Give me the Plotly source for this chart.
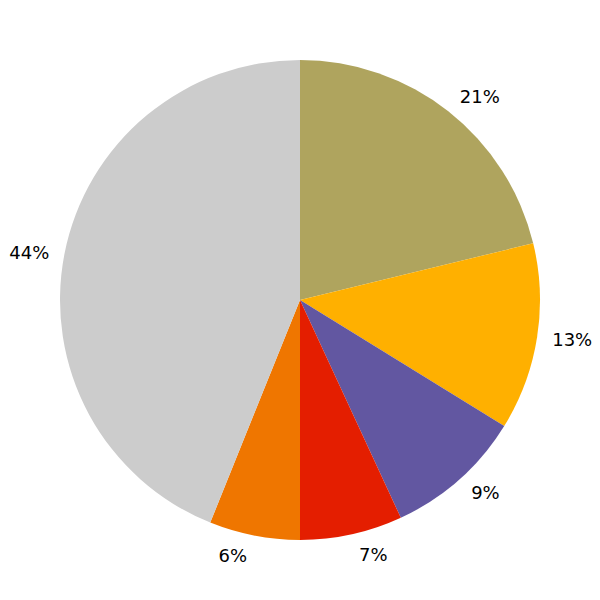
import plotly.graph_objects as go

labels = ["A", "B", "C", "D", "E", "F"]
values = [21.2, 12.6, 9.3, 6.9, 6.1, 43.9]
colors = ["#afa45e", "#ffb000", "#6257a1", "#e41e00", "#ef7600", "#cccccc"]

PLOT = 500.0
PIE = 480.0
lo = (PLOT - PIE) / 2 / PLOT
hi = 1 - lo

fig = go.Figure()
# transparent, slightly larger copy that carries the percentage labels
fig.add_trace(go.Pie(
    labels=labels,
    values=values,
    marker=dict(colors=["rgba(0,0,0,0)"] * len(values), line=dict(width=0)),
    sort=False,
    direction="clockwise",
    rotation=0,
    textposition="outside",
    texttemplate="%{percent:.0%}",
    textfont=dict(family="DejaVu Sans", size=18, color="#000000"),
    showlegend=False,
    hoverinfo="skip",
    automargin=False,
    domain=dict(x=[0, 1], y=[0, 1]),
))
# the coloured pie
fig.add_trace(go.Pie(
    labels=labels,
    values=values,
    marker=dict(colors=colors, line=dict(width=0)),
    sort=False,
    direction="clockwise",
    rotation=0,
    textinfo="none",
    showlegend=False,
    hoverinfo="label+percent",
    automargin=False,
    domain=dict(x=[lo, hi], y=[lo, hi]),
))
fig.update_layout(
    width=600, height=600,
    margin=dict(l=42, r=58, t=42, b=58),
    paper_bgcolor="white",
    plot_bgcolor="white",
)
fig.write_html("out.html")
